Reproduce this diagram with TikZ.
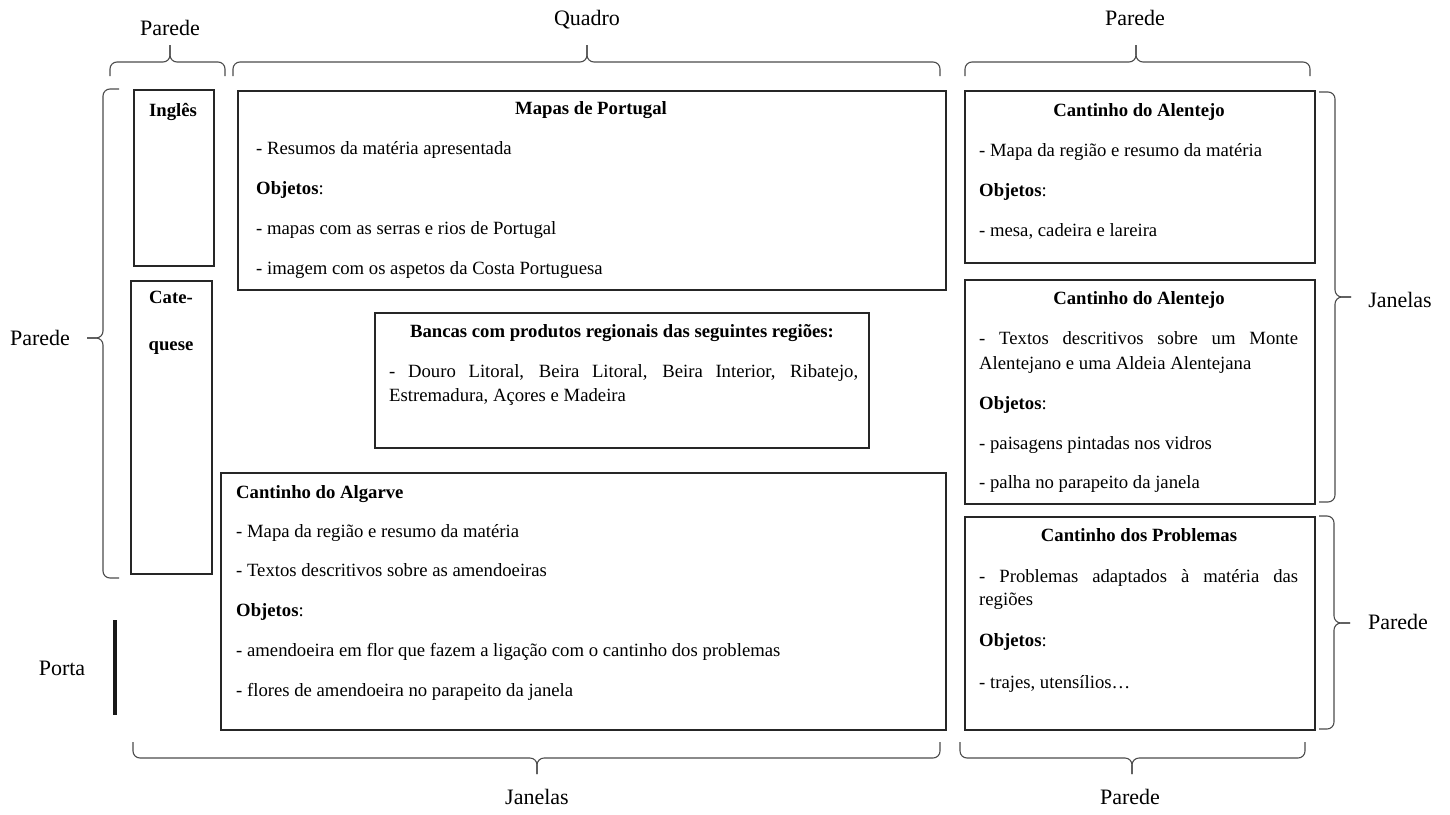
\documentclass[tikz,border=0pt]{standalone}
\usepackage{fontspec}
\setmainfont{Liberation Serif}
\begin{document}
\begin{tikzpicture}[x=1pt,y=-1pt,
  box/.style={draw=black!85, line width=1.6pt, inner sep=0pt, anchor=north west},
  txt/.style={anchor=base west, inner sep=0pt, font=\fontsize{18.7}{22}\selectfont},
  ttl/.style={anchor=base, inner sep=0pt, font=\fontsize{18.7}{22}\selectfont\bfseries},
  lbl/.style={inner sep=0pt, font=\fontsize{22}{26}\selectfont},
  wbrace/.style={draw=black!70, line width=1.1pt, rounded corners=7pt}]
\fill[white] (0,0) rectangle (1450,814);
\useasboundingbox (0,0) rectangle (1450,814);

% ---------- boxes ----------
\node[box, minimum width=80pt, minimum height=176pt] (ingles) at (133,89) {};
\node[box, minimum width=81pt, minimum height=293pt] (cate) at (130,280) {};
\node[box, minimum width=708pt, minimum height=199pt] (mapas) at (237,90) {};
\node[box, minimum width=494pt, minimum height=135pt] (bancas) at (374,312) {};
\node[box, minimum width=725pt, minimum height=257pt] (algarve) at (220,472) {};
\node[box, minimum width=350pt, minimum height=172pt] (alen1) at (964,90) {};
\node[box, minimum width=350pt, minimum height=224pt] (alen2) at (964,279) {};
\node[box, minimum width=350pt, minimum height=213pt] (probl) at (964,516) {};

% ---------- left small boxes ----------
\node[ttl] (tIng) at (173,116) {Inglês};
\node[ttl] (tCate1) at (171,303) {Cate-};
\node[ttl] (tCate2) at (171,350) {quese};

% ---------- Mapas ----------
\node[ttl] (tMap) at (591,114) {Mapas de Portugal};
\node[txt] (m1) at (256,154) {- Resumos da matéria apresentada};
\node[txt] (m2) at (256,194) {{\bfseries Objetos}:};
\node[txt] (m3) at (256,234) {- mapas com as serras e rios de Portugal};
\node[txt] (m4) at (256,274) {- imagem com os aspetos da Costa Portuguesa};

% ---------- Bancas ----------
\node[ttl] (tBan) at (622,337) {Bancas com produtos regionais das seguintes regiões:};
\node[txt] (b1) at (389,377) {\makebox[469pt][s]{- Douro Litoral, Beira Litoral, Beira Interior, Ribatejo,}};
\node[txt] (b2) at (389,401) {Estremadura, Açores e Madeira};

% ---------- Algarve ----------
\node[txt, font=\fontsize{18.7}{22}\selectfont\bfseries] (tAlg) at (236,498) {Cantinho do Algarve};
\node[txt] (a1) at (236,537) {- Mapa da região e resumo da matéria};
\node[txt] (a2) at (236,576) {- Textos descritivos sobre as amendoeiras};
\node[txt] (a3) at (236,616) {{\bfseries Objetos}:};
\node[txt] (a4) at (236,656) {- amendoeira em flor que fazem a ligação com o cantinho dos problemas};
\node[txt] (a5) at (236,696) {- flores de amendoeira no parapeito da janela};

% ---------- Alentejo 1 ----------
\node[ttl] (tAl1) at (1139,116) {Cantinho do Alentejo};
\node[txt] (e1) at (979,156) {- Mapa da região e resumo da matéria};
\node[txt] (e2) at (979,196) {{\bfseries Objetos}:};
\node[txt] (e3) at (979,236) {- mesa, cadeira e lareira};

% ---------- Alentejo 2 ----------
\node[ttl] (tAl2) at (1139,304) {Cantinho do Alentejo};
\node[txt] (f1) at (979,344) {\makebox[319pt][s]{- Textos descritivos sobre um Monte}};
\node[txt] (f2) at (979,369) {Alentejano e uma Aldeia Alentejana};
\node[txt] (f3) at (979,409) {{\bfseries Objetos}:};
\node[txt] (f4) at (979,449) {- paisagens pintadas nos vidros};
\node[txt] (f5) at (979,488) {- palha no parapeito da janela};

% ---------- Problemas ----------
\node[ttl] (tPro) at (1139,541) {Cantinho dos Problemas};
\node[txt] (p1) at (979,582) {\makebox[319pt][s]{- Problemas adaptados à matéria das}};
\node[txt] (p2) at (979,605) {regiões};
\node[txt] (p3) at (979,646) {{\bfseries Objetos}:};
\node[txt] (p4) at (979,688) {- trajes, utensílios…};

% ---------- labels ----------
\node[lbl] (lTopL) at (170,28) {Parede};
\node[lbl] (lQuadro) at (587,20) {Quadro};
\node[lbl] (lTopR) at (1135,18) {Parede};
\node[lbl] (lLeft) at (40,338) {Parede};
\node[lbl] (lPorta) at (62,668) {Porta};
\node[lbl] (lJanR) at (1400,300) {Janelas};
\node[lbl] (lParR) at (1398,622) {Parede};
\node[lbl] (lJanB) at (537,797) {Janelas};
\node[lbl] (lParB) at (1130,797) {Parede};

% ---------- porta ----------
\draw[line width=4pt, black!90] (115,620) -- (115,715);

% ---------- braces ----------
% top
\draw[wbrace] (110,76) -- (110,62) -- (170,62) -- (170,45);
\draw[wbrace] (225,76) -- (225,62) -- (170,62) -- (170,45);
\draw[wbrace] (233,76) -- (233,62) -- (587,62) -- (587,45);
\draw[wbrace] (940,76) -- (940,62) -- (587,62) -- (587,45);
\draw[wbrace] (965,76) -- (965,62) -- (1136,62) -- (1136,45);
\draw[wbrace] (1310,76) -- (1310,62) -- (1136,62) -- (1136,45);
% bottom
\draw[wbrace] (133,742) -- (133,758) -- (537,758) -- (537,774);
\draw[wbrace] (940,742) -- (940,758) -- (537,758) -- (537,774);
\draw[wbrace] (960,742) -- (960,758) -- (1132,758) -- (1132,774);
\draw[wbrace] (1305,742) -- (1305,758) -- (1132,758) -- (1132,774);
% left
\draw[wbrace] (119,89) -- (103,89) -- (103,338) -- (87,338);
\draw[wbrace] (119,578) -- (103,578) -- (103,338) -- (87,338);
% right
\draw[wbrace] (1319,92) -- (1335,92) -- (1335,297) -- (1351,297);
\draw[wbrace] (1319,502) -- (1335,502) -- (1335,297) -- (1351,297);
\draw[wbrace] (1319,516) -- (1334,516) -- (1334,623) -- (1350,623);
\draw[wbrace] (1319,729) -- (1334,729) -- (1334,623) -- (1350,623);
\end{tikzpicture}
\end{document}
